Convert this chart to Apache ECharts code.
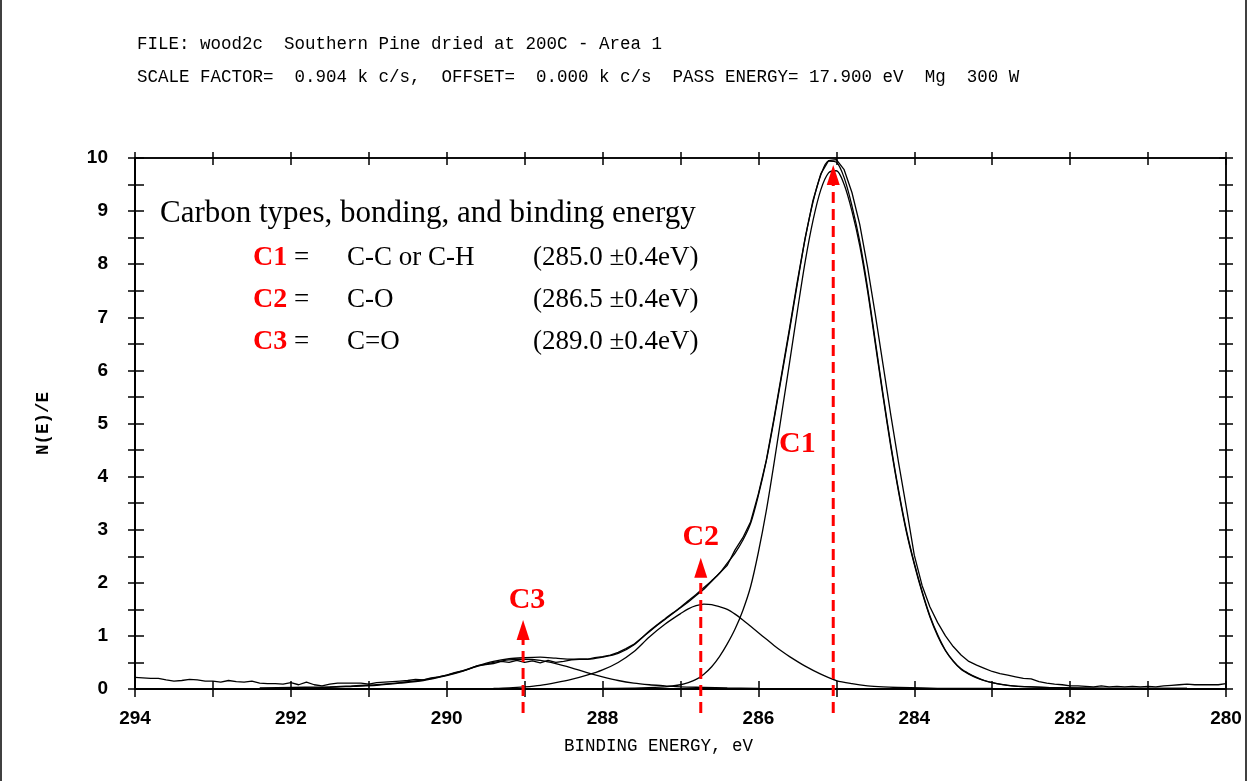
<!DOCTYPE html>
<html>
<head>
<meta charset="utf-8">
<script src="https://cdn.jsdelivr.net/npm/echarts@6/dist/echarts.min.js"></script>
<style>
html,body{margin:0;padding:0;background:#fff;}
#chart{width:1248px;height:781px;}
</style>
</head>
<body>
<div id="chart"></div>
<script>
// ---------------- DATA ----------------
const titleLine1 = "FILE: wood2c  Southern Pine dried at 200C - Area 1";
const titleLine2 = "SCALE FACTOR=  0.904 k c/s,  OFFSET=  0.000 k c/s  PASS ENERGY= 17.900 eV  Mg  300 W";
const xAxisName = "BINDING ENERGY, eV";
const yAxisName = "N(E)/E";

// raw measured spectrum
const rawEnergy = [294.0,293.9,293.8,293.7,293.6,293.5,293.4,293.3,293.2,293.1,293.0,292.9,292.8,292.7,292.6,292.5,292.4,292.3,292.2,292.1,292.0,291.9,291.8,291.7,291.6,291.5,291.4,291.3,291.2,291.1,291.0,290.9,290.8,290.7,290.6,290.5,290.4,290.3,290.2,290.1,290.0,289.9,289.8,289.7,289.6,289.5,289.4,289.3,289.2,289.1,289.0,288.9,288.8,288.7,288.6,288.5,288.4,288.3,288.2,288.1,288.0,287.9,287.8,287.7,287.6,287.5,287.4,287.3,287.2,287.1,287.0,286.9,286.8,286.7,286.6,286.5,286.4,286.3,286.2,286.1,286.0,285.9,285.8,285.7,285.6,285.5,285.4,285.3,285.2,285.1,285.0,284.9,284.8,284.7,284.6,284.5,284.4,284.3,284.2,284.1,284.0,283.9,283.8,283.7,283.6,283.5,283.4,283.3,283.2,283.1,283.0,282.9,282.8,282.7,282.6,282.5,282.4,282.3,282.2,282.1,282.0,281.9,281.8,281.7,281.6,281.5,281.4,281.3,281.2,281.1,281.0,280.9,280.8,280.7,280.6,280.5,280.4,280.3,280.2,280.1,280.0];
const rawCounts = [0.22,0.21,0.20,0.20,0.17,0.15,0.16,0.18,0.17,0.15,0.15,0.13,0.16,0.14,0.13,0.15,0.11,0.10,0.10,0.09,0.12,0.08,0.13,0.08,0.06,0.09,0.11,0.11,0.11,0.11,0.09,0.12,0.13,0.14,0.15,0.16,0.18,0.17,0.21,0.23,0.26,0.31,0.34,0.39,0.44,0.46,0.48,0.52,0.50,0.54,0.50,0.53,0.49,0.54,0.50,0.52,0.55,0.56,0.56,0.59,0.61,0.64,0.69,0.76,0.84,0.96,1.08,1.20,1.31,1.42,1.53,1.64,1.76,1.88,2.03,2.18,2.33,2.62,2.85,3.15,3.68,4.30,5.10,5.95,6.80,7.68,8.50,9.20,9.70,9.95,9.97,9.78,9.35,8.75,7.95,7.05,6.10,5.15,4.25,3.40,2.52,1.95,1.55,1.25,1.00,0.80,0.64,0.52,0.45,0.39,0.33,0.29,0.26,0.23,0.20,0.19,0.14,0.11,0.09,0.08,0.06,0.06,0.05,0.04,0.06,0.04,0.05,0.04,0.05,0.04,0.05,0.04,0.06,0.07,0.08,0.09,0.08,0.08,0.08,0.08,0.10];

// fitted envelope (sum of components)
const envEnergy = [292.4,292.0,291.5,291.2,290.9,290.6,290.3,290.0,289.8,289.6,289.4,289.2,289.0,288.8,288.6,288.4,288.2,288.0,287.8,287.6,287.4,287.2,287.0,286.9,286.8,286.7,286.6,286.5,286.4,286.3,286.2,286.1,286.0,285.9,285.8,285.7,285.6,285.5,285.4,285.3,285.2,285.1,285.0,284.9,284.8,284.7,284.6,284.5,284.4,284.3,284.2,284.1,284.0,283.9,283.8,283.7,283.6,283.5,283.4,283.3,283.2,283.1,283.0,282.8,282.5,282.0,281.0,280.5];
const envCounts = [0.02,0.03,0.04,0.06,0.08,0.12,0.17,0.26,0.34,0.44,0.52,0.57,0.59,0.60,0.58,0.56,0.56,0.60,0.67,0.83,1.09,1.32,1.54,1.66,1.78,1.91,2.04,2.18,2.37,2.56,2.80,3.12,3.65,4.29,5.07,5.91,6.76,7.64,8.48,9.17,9.68,9.94,9.92,9.63,9.10,8.43,7.56,6.55,5.54,4.59,3.73,2.98,2.37,1.84,1.38,1.02,0.73,0.53,0.38,0.29,0.22,0.16,0.12,0.07,0.04,0.02,0.01,0.01];

// component C1 (C-C / C-H)
const c1Energy = [288.0,287.5,287.2,287.0,286.9,286.8,286.7,286.6,286.5,286.4,286.3,286.2,286.1,286.0,285.9,285.8,285.7,285.6,285.5,285.4,285.3,285.2,285.1,285.0,284.9,284.8,284.7,284.6,284.5,284.4,284.3,284.2,284.1,284.0,283.9,283.8,283.7,283.6,283.5,283.4,283.3,283.2,283.1,283.0,282.8,282.5,282.0,281.0,280.5];
const c1Counts = [0.01,0.02,0.04,0.08,0.12,0.18,0.28,0.42,0.61,0.85,1.13,1.48,1.93,2.58,3.35,4.25,5.20,6.15,7.12,8.05,8.82,9.40,9.72,9.76,9.50,9.00,8.35,7.50,6.50,5.50,4.55,3.70,2.95,2.35,1.82,1.36,1.00,0.72,0.52,0.37,0.28,0.21,0.16,0.12,0.07,0.04,0.02,0.01,0.01];

// component C2 (C-O)
const c2Energy = [289.4,289.2,289.0,288.8,288.6,288.4,288.2,288.0,287.8,287.6,287.4,287.2,287.0,286.9,286.8,286.7,286.6,286.5,286.4,286.3,286.2,286.1,286.0,285.9,285.8,285.7,285.6,285.4,285.2,285.0,284.8,284.6,284.4,284.2,283.9,283.5,283.0];
const c2Counts = [0.01,0.02,0.04,0.07,0.12,0.18,0.26,0.36,0.50,0.70,0.98,1.22,1.42,1.51,1.57,1.60,1.59,1.55,1.50,1.41,1.30,1.18,1.06,0.94,0.82,0.71,0.61,0.43,0.28,0.16,0.10,0.06,0.04,0.03,0.02,0.01,0.01];

// component C3 (C=O)
const c3Energy = [292.0,291.5,291.2,290.9,290.6,290.3,290.0,289.8,289.6,289.4,289.2,289.0,288.8,288.6,288.4,288.2,288.0,287.8,287.6,287.4,287.2,287.0,286.7,286.4,286.0];
const c3Counts = [0.01,0.03,0.05,0.07,0.11,0.16,0.25,0.33,0.43,0.50,0.55,0.56,0.54,0.48,0.40,0.31,0.23,0.16,0.11,0.08,0.06,0.04,0.03,0.02,0.01];

// peak markers (red dashed arrows)
const markerNames = ["C1","C2","C3"];
const markerEnergy = [285.04, 286.74, 289.02];
const markerTip = [9.87, 2.47, 1.30];
const markerBase = [9.55, 2.12, 0.96];
const markerBottom = -0.45;
const markerLabelEnergy = [285.50, 286.74, 288.97];
const markerLabelY = [4.60, 2.86, 1.68];

// legend box text
const legendHeading = "Carbon types, bonding, and binding energy";
const legendCodes = ["C1","C2","C3"];
const legendBonds = ["C-C or C-H","C-O","C=O"];
const legendEnergies = ["(285.0 \u00b10.4eV)","(286.5 \u00b10.4eV)","(289.0 \u00b10.4eV)"];

// ---------------- CHART ----------------
const MONO = "'Liberation Mono','DejaVu Sans Mono',monospace";
const TICKFONT = "'Liberation Sans','Arial',sans-serif";
const SERIF = "'Liberation Serif','Times New Roman',serif";
const RED = '#ff0000';

const zip = (a, b) => a.map((v, i) => [v, b[i]]);

function xAx(position, inside, len, showLabel, lineW) {
  return {
    type: 'value', position: position, min: 280, max: 294, interval: 2, inverse: true,
    gridIndex: 0,
    axisLine: {show: true, onZero: false, lineStyle: {color: '#000', width: lineW}},
    axisTick: {show: true, inside: inside, length: len, lineStyle: {color: '#000', width: 1.5}},
    minorTick: {show: true, splitNumber: 2, length: len, lineStyle: {color: '#000', width: 1.5}},
    splitLine: {show: false}, minorSplitLine: {show: false},
    axisLabel: {show: showLabel, margin: 20, color: '#000', fontFamily: TICKFONT, fontWeight: 'bold', fontSize: 19},
    name: showLabel ? xAxisName : '', nameLocation: 'middle', nameGap: 48,
    nameTextStyle: {color: '#000', fontFamily: MONO, fontSize: 17.5, padding: [0, 44, 0, 0]}
  };
}
function yAx(position, inside, len, showLabel, lineW) {
  return {
    type: 'value', position: position, min: 0, max: 10, interval: 1,
    gridIndex: 0,
    axisLine: {show: true, onZero: false, lineStyle: {color: '#000', width: lineW}},
    axisTick: {show: true, inside: inside, length: len, lineStyle: {color: '#000', width: 1.5}},
    minorTick: {show: true, splitNumber: 2, length: len, lineStyle: {color: '#000', width: 1.5}},
    splitLine: {show: false}, minorSplitLine: {show: false},
    axisLabel: {show: showLabel, margin: 27, color: '#000', fontFamily: TICKFONT, fontWeight: 'bold', fontSize: 19},
    name: showLabel ? yAxisName : '', nameLocation: 'middle', nameGap: 82,
    nameTextStyle: {color: '#000', fontFamily: MONO, fontSize: 17.5, fontWeight: 'bold'}
  };
}

const curveStyle = {color: '#000', width: 1.3};
function curve(name, e, c, smooth) {
  return {
    name: name, type: 'line', data: zip(e, c), symbol: 'none', smooth: smooth,
    lineStyle: curveStyle, xAxisIndex: 0, yAxisIndex: 0, z: 3, clip: false, silent: true
  };
}

const series = [
  curve('raw', rawEnergy, rawCounts, false),
  curve('envelope', envEnergy, envCounts, 0.3),
  curve('C1', c1Energy, c1Counts, 0.3),
  curve('C2', c2Energy, c2Counts, 0.3),
  curve('C3', c3Energy, c3Counts, 0.3)
];

markerEnergy.forEach((e, i) => {
  series.push({
    type: 'line', data: [[e, markerBottom], [e, markerBase[i]]], symbol: 'none',
    lineStyle: {color: RED, width: 3, type: [11, 6]}, clip: false, z: 5, silent: true,
    xAxisIndex: 0, yAxisIndex: 0
  });
});
series.push({
  type: 'scatter', data: zip(markerEnergy, markerTip), symbol: 'triangle',
  symbolSize: [13, 20], symbolOffset: [0, 10], itemStyle: {color: RED, opacity: 1}, z: 6, clip: false, silent: true,
  xAxisIndex: 0, yAxisIndex: 0
});
series.push({
  type: 'scatter', data: markerNames.map((n, i) => ({value: [markerLabelEnergy[i], markerLabelY[i]], name: n})),
  symbol: 'circle', symbolSize: 2, itemStyle: {color: 'rgba(0,0,0,0)', opacity: 1}, z: 7, clip: false, silent: true,
  xAxisIndex: 0, yAxisIndex: 0,
  label: {show: true, position: 'inside', formatter: p => p.name, color: RED, opacity: 1,
    fontFamily: SERIF, fontWeight: 'bold', fontSize: 30}
});

function txt(x, y, text, font, fill) {
  return {type: 'text', x: x, y: y, silent: true, z: 10,
    style: {text: text, font: font, fill: fill || '#000',
      textAlign: 'left', align: 'left', textVerticalAlign: 'middle', verticalAlign: 'middle'}};
}
const graphic = [
  txt(137, 44, titleLine1, "17.5px " + MONO),
  txt(137, 77, titleLine2, "17.5px " + MONO),
  txt(160, 214, legendHeading, "31px " + SERIF)
];
const rowY = [258, 300, 342];
legendCodes.forEach((c, i) => {
  graphic.push(txt(253, rowY[i], c, "bold 28px " + SERIF, RED));
  graphic.push(txt(294, rowY[i], "=", "27px " + SERIF));
  graphic.push(txt(347, rowY[i], legendBonds[i], "27px " + SERIF));
  graphic.push(txt(533, rowY[i], legendEnergies[i], "27px " + SERIF));
});
graphic.push({type: 'line', silent: true, shape: {x1: 1, y1: 0, x2: 1, y2: 781}, style: {stroke: '#000', lineWidth: 1.5}});
graphic.push({type: 'line', silent: true, shape: {x1: 1246, y1: 0, x2: 1246, y2: 781}, style: {stroke: '#000', lineWidth: 1.5}});

const chart = echarts.init(document.getElementById('chart'), null, {renderer: 'canvas'});
chart.setOption({
  animation: false,
  backgroundColor: '#fff',
  grid: {left: 135, top: 158, width: 1091, height: 531, containLabel: false},
  xAxis: [
    xAx('bottom', false, 8, true, 2),
    xAx('bottom', true, 8, false, 2),
    xAx('top', false, 6, false, 1.5),
    xAx('top', true, 7, false, 1.5)
  ],
  yAxis: [
    yAx('left', false, 7, true, 2),
    yAx('left', true, 9, false, 2),
    yAx('right', false, 7, false, 1.5),
    yAx('right', true, 7, false, 1.5)
  ],
  series: series,
  graphic: graphic
});
</script>
</body>
</html>
